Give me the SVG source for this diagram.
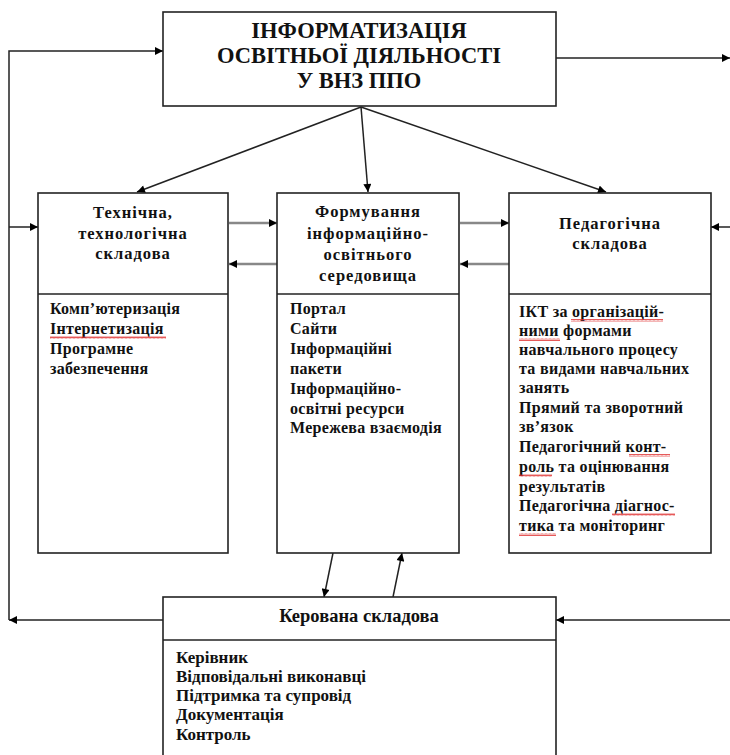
<svg xmlns="http://www.w3.org/2000/svg" width="730" height="755" viewBox="0 0 730 755">
<defs>
<marker id="ah" viewBox="0 0 10 10" refX="10" refY="5" markerWidth="9" markerHeight="8" markerUnits="userSpaceOnUse" orient="auto">
<path d="M0,0 L10,5 L0,10 z" fill="#000"/>
</marker>
<pattern id="wave" width="4" height="3" patternUnits="userSpaceOnUse">
<path d="M0,2.5 L1,0.5 L2,2.5 L3,0.5 L4,2.5" fill="none" stroke="#e03030" stroke-width="0.8"/>
</pattern>
<style>
.box{fill:#fff;stroke:#222;stroke-width:1.6}
.div{stroke:#222;stroke-width:1.4}
.ln{fill:none;stroke:#222;stroke-width:1.5}
.gr{fill:none;stroke:#888;stroke-width:2.6}
.title{font-family:"Liberation Serif","DejaVu Serif",serif;font-weight:bold;font-size:22.5px;fill:#111;text-anchor:middle}
.head{font-family:"Liberation Serif","DejaVu Serif",serif;font-weight:bold;font-size:16.5px;fill:#111;text-anchor:middle;letter-spacing:1px}
.item{font-family:"Liberation Serif","DejaVu Serif",serif;font-weight:bold;font-size:16px;fill:#111;letter-spacing:0.3px}
.bitem{font-family:"Liberation Serif","DejaVu Serif",serif;font-weight:bold;font-size:17px;fill:#111}
.bhead{font-family:"Liberation Serif","DejaVu Serif",serif;font-weight:bold;font-size:18.5px;fill:#111;text-anchor:middle}
.wv{fill:url(#wave)}
</style>
</defs>

<g id="connectors">
<line class="ln" x1="361" y1="107" x2="137" y2="192" marker-end="url(#ah)"/>
<line class="ln" x1="361" y1="107" x2="368" y2="192" marker-end="url(#ah)"/>
<line class="ln" x1="361" y1="107" x2="606" y2="192" marker-end="url(#ah)"/>
<line class="ln" x1="556" y1="58" x2="730" y2="58" stroke-width="2" marker-end="url(#ah)"/>
<line class="ln" x1="163" y1="620" x2="9" y2="620" marker-end="url(#ah)"/>
<polyline class="ln" points="9,620 9,51 163,51" marker-end="url(#ah)"/>
<line class="ln" x1="9" y1="227" x2="38" y2="227" marker-end="url(#ah)"/>
<line class="ln" x1="730" y1="227" x2="711" y2="227" marker-end="url(#ah)"/>
<line class="ln" x1="730" y1="620" x2="556" y2="620" marker-end="url(#ah)"/>
<line class="gr" x1="229" y1="223" x2="277" y2="223" marker-end="url(#ah)"/>
<line class="gr" x1="277" y1="264" x2="229" y2="264" marker-end="url(#ah)"/>
<line class="gr" x1="460" y1="223" x2="509" y2="223" marker-end="url(#ah)"/>
<line class="gr" x1="509" y1="264" x2="460" y2="264" marker-end="url(#ah)"/>
<line class="ln" x1="333" y1="553" x2="324" y2="597" marker-end="url(#ah)"/>
<line class="ln" x1="393" y1="597" x2="402" y2="553" marker-end="url(#ah)"/>
</g>

<g id="top">
<rect class="box" x="163" y="12" width="393" height="94"/>
<text class="title" x="359" y="38">ІНФОРМАТИЗАЦІЯ</text>
<text class="title" x="359" y="63">ОСВІТНЬОЇ ДІЯЛЬНОСТІ</text>
<text class="title" x="359" y="88">У ВНЗ ППО</text>
</g>

<g id="technical">
<rect class="box" x="38" y="193" width="190" height="360"/>
<line class="div" x1="38" y1="294" x2="228" y2="294"/>
<text class="head" x="133" y="218">Технічна,</text>
<text class="head" x="133" y="239">технологічна</text>
<text class="head" x="133" y="259">складова</text>
<text class="item" x="50" y="314">Комп’ютеризація</text>
<text class="item" x="50" y="334">Інтернетизація</text>
<text class="item" x="50" y="354">Програмне</text>
<text class="item" x="50" y="374">забезпечення</text>
<rect class="wv" x="50" y="336" width="116" height="3"/>
</g>

<g id="environment">
<rect class="box" x="277" y="193" width="182" height="360"/>
<line class="div" x1="277" y1="294" x2="459" y2="294"/>
<text class="head" x="368" y="217">Формування</text>
<text class="head" x="368" y="239">інформаційно-</text>
<text class="head" x="368" y="260">освітнього</text>
<text class="head" x="368" y="281">середовища</text>
<text class="item" x="290" y="314">Портал</text>
<text class="item" x="290" y="334">Сайти</text>
<text class="item" x="290" y="354">Інформаційні</text>
<text class="item" x="290" y="374">пакети</text>
<text class="item" x="290" y="394">Інформаційно-</text>
<text class="item" x="290" y="414">освітні ресурси</text>
<text class="item" x="290" y="433">Мережева взаємодія</text>
</g>

<g id="pedagogical">
<rect class="box" x="509" y="193" width="202" height="360"/>
<line class="div" x1="509" y1="294" x2="711" y2="294"/>
<text class="head" x="610" y="229">Педагогічна</text>
<text class="head" x="610" y="249">складова</text>
<text class="item" x="519" y="317">ІКТ за організацій-</text>
<text class="item" x="519" y="336">ними формами</text>
<text class="item" x="519" y="355">навчального процесу</text>
<text class="item" x="519" y="374">та видами навчальних</text>
<text class="item" x="519" y="393">занять</text>
<text class="item" x="519" y="413">Прямий та зворотний</text>
<text class="item" x="519" y="432">зв’язок</text>
<text class="item" x="519" y="452">Педагогічний  конт-</text>
<text class="item" x="519" y="472">роль та оцінювання</text>
<text class="item" x="519" y="492">результатів</text>
<text class="item" x="519" y="511">Педагогічна  діагнос-</text>
<text class="item" x="519" y="531">тика та моніторинг</text>
<rect class="wv" x="571" y="319" width="92" height="3"/>
<rect class="wv" x="519" y="338" width="41" height="3"/>
<rect class="wv" x="629" y="454" width="41" height="3"/>
<rect class="wv" x="519" y="474" width="33" height="3"/>
<rect class="wv" x="612" y="513" width="63" height="3"/>
<rect class="wv" x="519" y="533" width="37" height="3"/>
</g>

<g id="managed">
<rect class="box" x="163" y="597" width="393" height="170"/>
<line class="div" x1="163" y1="640" x2="556" y2="640"/>
<text class="bhead" x="359" y="622">Керована складова</text>
<text class="bitem" x="176" y="663">Керівник</text>
<text class="bitem" x="176" y="682">Відповідальні виконавці</text>
<text class="bitem" x="176" y="701">Підтримка та супровід</text>
<text class="bitem" x="176" y="720">Документація</text>
<text class="bitem" x="176" y="740">Контроль</text>
</g>
</svg>
